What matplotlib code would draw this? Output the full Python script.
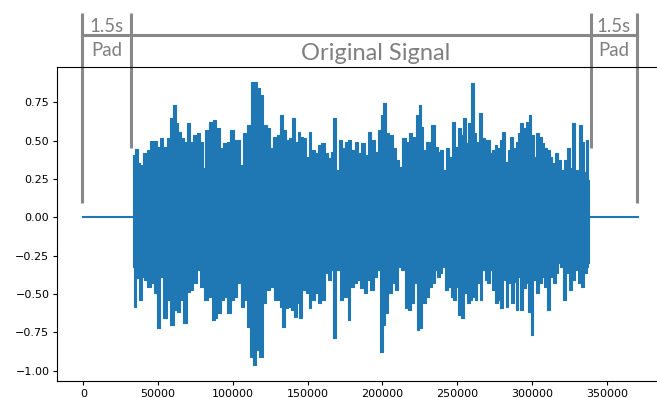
import numpy as np
import matplotlib
matplotlib.use("Agg")
import matplotlib.pyplot as plt

# ---------------------------------------------------------------------------
# Data (sample index, amplitude)
# ---------------------------------------------------------------------------
sr = 22050
pad_len = 33075            # 1.5 s of zeros on each side
sig_start = 33075
sig_end = 337975
total_len = 371050

# upper envelope peaks of the waveform
up_x = [33075, 35700, 37200, 39000, 41300, 43500, 45700, 48400, 50200, 52000,
        54600, 56900, 59100, 60900, 62400, 64000, 66200, 68000, 70700, 72500,
        74700, 76900, 78700, 80900, 82500, 85400, 87600, 90300, 92500, 94800,
        97000, 99700, 101900, 104100, 105900, 108100, 110800, 113300, 115300, 117000,
        119300, 121500, 123700, 126000, 128200, 130400, 132900, 134700, 136900, 138700,
        140900, 142500, 144000, 146200, 148000, 149800, 151400, 153600, 155800, 158100,
        160300, 162500, 164700, 166300, 167600, 169900, 171700, 173700, 175900, 178100,
        180400, 182600, 184800, 187000, 189300, 191500, 193700, 196000, 198200, 199700,
        201500, 203300, 206000, 208200, 210400, 212200, 214500, 216700, 218900, 221100,
        223400, 224900, 226500, 228300, 230500, 234300, 235900, 238100, 239600, 241400,
        243700, 245900, 247700, 249500, 251500, 253000, 254800, 256600, 258400, 260400,
        261900, 263700, 265900, 267700, 269300, 270900, 272600, 274400, 276000, 277500,
        279300, 281100, 282900, 284700, 286000, 288200, 290000, 291600, 293100, 294900,
        297200, 298900, 300500, 302100, 303800, 305600, 307400, 309200, 311000, 312800,
        314500, 316100, 318300, 320600, 322300, 324300, 326100, 327900, 330100, 332400,
        333900, 335500, 336800, 337975]
up_y = [0.407, 0.443, 0.352, 0.341, 0.422, 0.439, 0.500, 0.500, 0.461, 0.520,
        0.461, 0.515, 0.646, 0.733, 0.613, 0.559, 0.515, 0.493, 0.613, 0.493,
        0.537, 0.548, 0.493, 0.320, 0.570, 0.624, 0.635, 0.580, 0.450, 0.483,
        0.493, 0.570, 0.504, 0.504, 0.341, 0.548, 0.602, 0.885, 0.885, 0.841,
        0.798, 0.602, 0.580, 0.450, 0.526, 0.537, 0.667, 0.570, 0.504, 0.515,
        0.646, 0.493, 0.559, 0.526, 0.515, 0.396, 0.559, 0.439, 0.417, 0.472,
        0.483, 0.417, 0.385, 0.428, 0.646, 0.309, 0.504, 0.450, 0.493, 0.504,
        0.439, 0.493, 0.417, 0.483, 0.407, 0.559, 0.504, 0.428, 0.570, 0.667,
        0.743, 0.548, 0.537, 0.450, 0.374, 0.330, 0.515, 0.493, 0.548, 0.526,
        0.667, 0.733, 0.591, 0.439, 0.493, 0.602, 0.461, 0.428, 0.439, 0.309,
        0.450, 0.396, 0.624, 0.461, 0.580, 0.537, 0.646, 0.483, 0.613, 0.874,
        0.548, 0.493, 0.678, 0.515, 0.504, 0.504, 0.417, 0.439, 0.472, 0.450,
        0.504, 0.559, 0.363, 0.439, 0.526, 0.450, 0.493, 0.548, 0.613, 0.580,
        0.624, 0.667, 0.537, 0.396, 0.548, 0.526, 0.483, 0.450, 0.439, 0.396,
        0.352, 0.422, 0.374, 0.309, 0.374, 0.450, 0.320, 0.613, 0.309, 0.602,
        0.493, 0.298, 0.504, 0.243]

# lower envelope troughs of the waveform
lo_x = [33075, 34600, 36400, 37900, 40100, 41700, 43900, 46200, 47900, 50200,
        52400, 54600, 56900, 59500, 61800, 64000, 65800, 68000, 70200, 72500,
        74700, 76900, 79200, 81800, 84700, 87000, 88500, 90700, 93000, 95200,
        97400, 99700, 101900, 104100, 106300, 108600, 110800, 112600, 114800, 116600,
        118800, 121100, 123300, 126000, 128600, 130900, 132000, 133500, 135800, 138000,
        140200, 141800, 143600, 145400, 147600, 149800, 151400, 153600, 155800, 158100,
        160300, 162500, 164700, 166500, 168100, 170300, 172600, 174300, 175900, 177500,
        179700, 181900, 184100, 186400, 188600, 190800, 193100, 195300, 197500, 199300,
        201100, 202900, 205100, 207300, 209300, 211600, 213800, 216000, 218200, 219800,
        222000, 223800, 225600, 227800, 230100, 232300, 234300, 235900, 237400, 239200,
        241000, 242500, 244800, 246300, 248100, 249900, 251700, 253700, 255900, 257500,
        259300, 261000, 262600, 264200, 265900, 267700, 269300, 270900, 272600, 274400,
        276200, 278000, 279800, 281600, 283300, 285100, 287100, 288700, 290000, 291600,
        293100, 294900, 296700, 298300, 300100, 301600, 303800, 305600, 307200, 309200,
        311400, 313200, 315000, 316800, 318300, 319900, 322100, 323900, 325700, 327900,
        329700, 331700, 333900, 335700, 337300, 337975]
lo_y = [-0.322, -0.583, -0.398, -0.539, -0.387, -0.409, -0.452, -0.430, -0.496, -0.724,
        -0.387, -0.659, -0.539, -0.702, -0.604, -0.615, -0.539, -0.691, -0.485, -0.474,
        -0.430, -0.343, -0.452, -0.539, -0.517, -0.670, -0.659, -0.626, -0.539, -0.517,
        -0.626, -0.539, -0.517, -0.430, -0.583, -0.539, -0.713, -0.909, -0.963, -0.865,
        -0.909, -0.561, -0.474, -0.452, -0.539, -0.539, -0.583, -0.713, -0.593, -0.583,
        -0.604, -0.648, -0.561, -0.659, -0.474, -0.496, -0.593, -0.539, -0.496, -0.561,
        -0.539, -0.365, -0.409, -0.343, -0.789, -0.343, -0.539, -0.517, -0.517, -0.670,
        -0.452, -0.430, -0.409, -0.463, -0.496, -0.409, -0.474, -0.387, -0.343, -0.876,
        -0.702, -0.626, -0.496, -0.430, -0.474, -0.322, -0.343, -0.593, -0.604, -0.561,
        -0.430, -0.735, -0.724, -0.561, -0.517, -0.452, -0.430, -0.343, -0.387, -0.365,
        -0.322, -0.474, -0.452, -0.517, -0.539, -0.452, -0.637, -0.659, -0.496, -0.561,
        -0.539, -0.517, -0.539, -0.430, -0.539, -0.343, -0.409, -0.430, -0.343, -0.474,
        -0.561, -0.539, -0.593, -0.409, -0.583, -0.430, -0.561, -0.420, -0.604, -0.387,
        -0.604, -0.463, -0.430, -0.615, -0.767, -0.409, -0.496, -0.430, -0.387, -0.452,
        -0.604, -0.387, -0.430, -0.365, -0.300, -0.322, -0.539, -0.365, -0.474, -0.409,
        -0.343, -0.430, -0.452, -0.365, -0.322, -0.300]

# annotation bracket positions (sample index) and labels
bracket_x = [-900, 31700, 339300, 370100]
sig_label_x = 195700
pad_label = "1.5s"
pad_sub = "Pad"
sig_label = "Original Signal"

blue = "#1f77b4"
grey = "#888888"
text_grey = "#7f7f7f"

# ---------------------------------------------------------------------------
# Figure
# ---------------------------------------------------------------------------
fig = plt.figure(figsize=(6.57, 3.98), dpi=100)
ax = fig.add_axes([57 / 657, 17 / 398, 609 / 657, 314.3 / 398])

# zero padding
ax.plot([0, sig_start], [0, 0], color=blue, lw=1.5)
ax.plot([sig_end, total_len], [0, 0], color=blue, lw=1.5)

# signal body: spikes above and below zero
ax.fill_between(up_x, 0, up_y, step="mid", facecolor=blue, edgecolor=blue, lw=0.8)
ax.fill_between(lo_x, lo_y, 0, step="mid", facecolor=blue, edgecolor=blue, lw=0.8)

ax.set_xlim(-17600, 389650)
ax.set_ylim(-1.068, 0.982)
ax.set_xticks([0, 50000, 100000, 150000, 200000, 250000, 300000, 350000])
ax.set_yticks([-1.0, -0.75, -0.5, -0.25, 0.0, 0.25, 0.5, 0.75])
ax.tick_params(labelsize=8, length=3, pad=2.5)
ax.spines["right"].set_visible(False)

# bracket annotation above the plot
top, mid = 1.333, 1.189
lw = 2.2
ax.plot([bracket_x[0], bracket_x[3]], [mid, mid], color=grey, lw=lw, clip_on=False)
for bx, bottom in zip(bracket_x, [0.09, 0.45, 0.45, 0.09]):
    ax.plot([bx, bx], [top, bottom], color=grey, lw=lw, clip_on=False,
            solid_capstyle="butt")

for left, right in [(bracket_x[0], bracket_x[1]), (bracket_x[2], bracket_x[3])]:
    cx = (left + right) / 2
    ax.text(cx, 1.209, pad_label, ha="center", va="baseline", fontsize=13.4,
            family="Lato", color=text_grey)
    ax.text(cx, 1.052, pad_sub, ha="center", va="baseline", fontsize=13.4,
            family="Lato", color=text_grey)

ax.text(sig_label_x, 1.026, sig_label, ha="center", va="baseline",
        fontsize=17, family="Lato", color=text_grey)

fig.savefig("out.png", dpi=100)
